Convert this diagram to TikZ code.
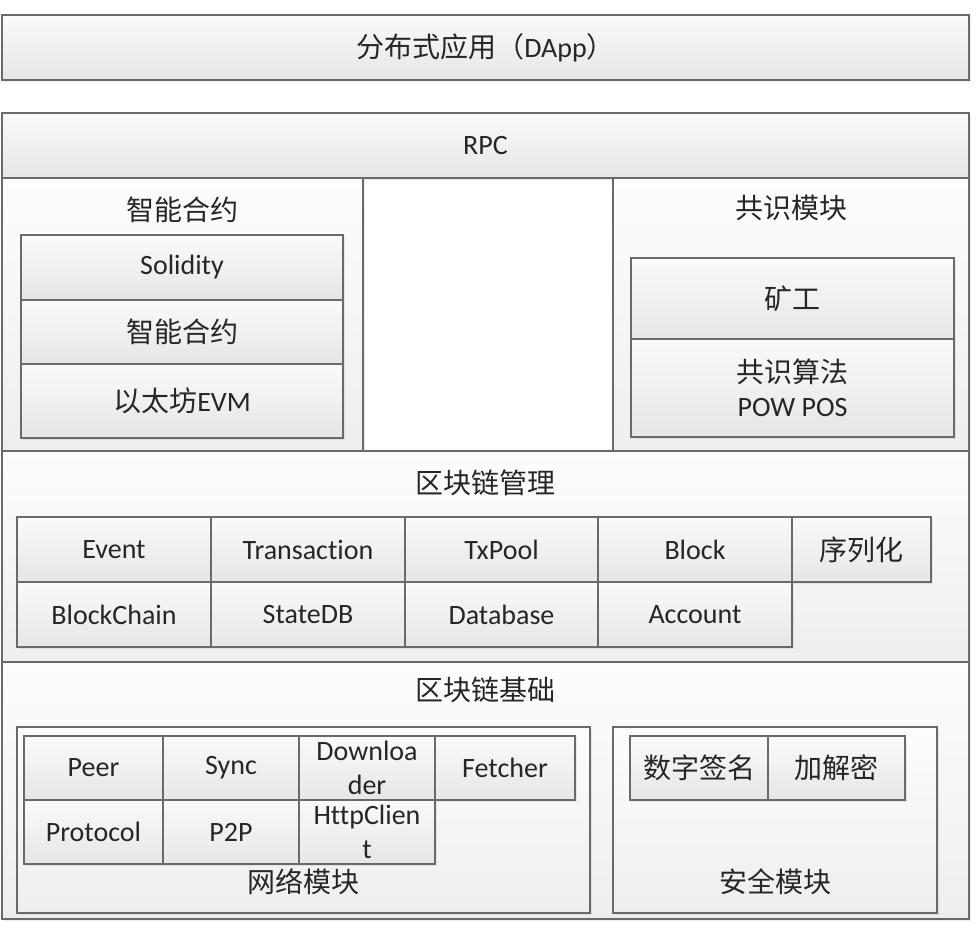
\documentclass[tikz,border=0pt]{standalone}
\usepackage{fontspec}
\setmainfont[Ligatures={NoCommon,NoContextual}]{Carlito}
\newfontfamily\cjk{Noto Sans CJK SC}
\usetikzlibrary{shadows}
\definecolor{edge}{HTML}{6A6A6A}
\definecolor{ink}{HTML}{262626}
\definecolor{shadetop}{HTML}{FAFAFA}
\definecolor{shadebot}{HTML}{E6E6E6}
\definecolor{paneltop}{HTML}{FDFDFD}
\definecolor{panelbot}{HTML}{EEEEEE}

% \cellbox{style}{name}{x1}{y1}{x2}{y2}{text}: a box spanning two corners
\newcommand\cellbox[7]{%
  \pgfmathsetmacro\cbx{(#3+#5)/2}\pgfmathsetmacro\cby{(#4+#6)/2}%
  \pgfmathsetmacro\cbw{#5-#3}\pgfmathsetmacro\cbh{#6-#4}%
  \node[#1, minimum width=\cbw pt, minimum height=\cbh pt] (#2) at (\cbx,\cby) {#7};}

\begin{document}
\begin{tikzpicture}[x=1pt,y=-1pt,
  box/.style={draw=edge, line width=1.6pt, top color=shadetop, bottom color=shadebot,
    inner sep=0pt, text=ink, font=\fontsize{28}{34}\selectfont,
    drop shadow={shadow xshift=2pt, shadow yshift=-2pt, opacity=0.15}},
  twoline/.style={box, align=center},
  panel/.style={box, top color=paneltop, bottom color=panelbot},
  title/.style={text=ink, font=\fontsize{28}{34}\selectfont, inner sep=0pt}]

\fill[white] (0,0) rectangle (980,932);
\useasboundingbox (0,0) rectangle (980,932);

% application and RPC layers
\cellbox{box}{dapp}{2}{15}{969}{80}{{\cjk 分布式应用（}DApp{\cjk ）}}
\cellbox{box}{rpc}{2}{113}{969}{178}{RPC}

% smart contract panel
\cellbox{panel}{scpanel}{2}{178}{363}{451}{}
\node[title] (sctitle) at (182,210) {\cjk 智能合约};
\cellbox{box}{solidity}{21}{235}{343}{300}{Solidity}
\cellbox{box}{contract}{21}{300}{343}{364}{\cjk 智能合约}
\cellbox{box}{evm}{21}{364}{343}{438}{{\cjk 以太坊}EVM}

% consensus panel
\cellbox{panel}{cspanel}{613}{178}{969}{451}{}
\node[title] (cstitle) at (791,208) {\cjk 共识模块};
\cellbox{box}{miner}{631}{258}{954}{339}{\cjk 矿工}
\cellbox{twoline}{algo}{631}{339}{954}{437}{{\cjk 共识算法}\\POW POS}

% chain management
\cellbox{panel}{mgmt}{2}{451}{969}{662}{}
\node[title] (mgmttitle) at (485,483) {\cjk 区块链管理};
\cellbox{box}{event}{17}{517}{211}{582}{Event}
\cellbox{box}{tx}{211}{517}{405}{582}{Transac\kern0pt tion}
\cellbox{box}{txpool}{405}{517}{598}{582}{TxPool}
\cellbox{box}{block}{598}{517}{792}{582}{Block}
\cellbox{box}{serial}{792}{517}{931}{582}{\cjk 序列化}
\cellbox{box}{chain}{17}{582}{211}{647}{BlockChain}
\cellbox{box}{statedb}{211}{582}{405}{647}{StateDB}
\cellbox{box}{db}{405}{582}{598}{647}{Database}
\cellbox{box}{account}{598}{582}{792}{647}{Account}

% chain foundation
\cellbox{panel}{base}{2}{662}{969}{919}{}
\node[title] (basetitle) at (485,690) {\cjk 区块链基础};

% network module
\cellbox{panel}{net}{17}{727}{590}{913}{}
\node[title] (nettitle) at (303,882) {\cjk 网络模块};
\cellbox{box}{peer}{24}{736}{163}{800}{Peer}
\cellbox{box}{sync}{163}{736}{299}{800}{Sync}
\cellbox{twoline}{down}{299}{736}{435}{800}{Downloa\\der}
\cellbox{box}{fetch}{435}{736}{575}{800}{Fetcher}
\cellbox{box}{proto}{24}{800}{163}{864}{Protocol}
\cellbox{box}{p2p}{163}{800}{299}{864}{P2P}
\cellbox{twoline}{http}{299}{800}{435}{864}{HttpClien\\t}

% security module
\cellbox{panel}{sec}{613}{727}{937}{913}{}
\node[title] (sectitle) at (775,882) {\cjk 安全模块};
\cellbox{box}{sign}{630}{736}{768}{800}{\cjk 数字签名}
\cellbox{box}{crypt}{768}{736}{905}{800}{\cjk 加解密}
\end{tikzpicture}
\end{document}
